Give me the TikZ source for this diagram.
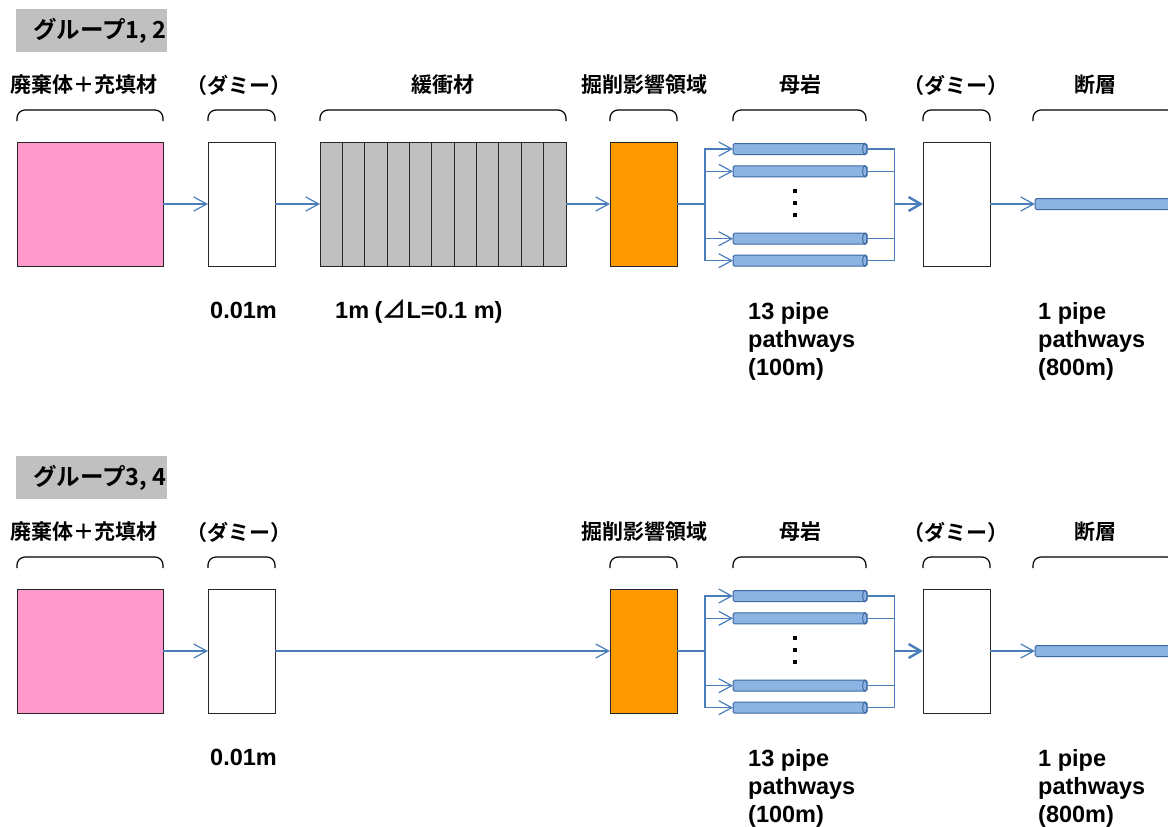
\documentclass[tikz,border=0pt]{standalone}
\usepackage{fontspec}
\setmainfont{Liberation Sans}
\newfontfamily\jp{Noto Sans CJK JP}[BoldFont={* Bold}]
\usetikzlibrary{arrows.meta}
\definecolor{flowblue}{HTML}{4A7EBB}
\definecolor{pipefill}{HTML}{8DB3E2}
\definecolor{pipeedge}{HTML}{3D6AA3}
\definecolor{pinkfill}{HTML}{FF99CC}
\definecolor{orangefill}{HTML}{FF9900}
\definecolor{bufgray}{HTML}{C0C0C0}
\tikzset{
  box/.style={draw=black!85, line width=1pt, anchor=north west, inner sep=0pt, outer sep=0pt, minimum height=124pt},
  pipe/.style={draw=pipeedge, fill=pipefill, line width=1pt, rounded corners=1.5pt, minimum height=11pt, inner sep=0pt, outer sep=0pt, anchor=west},
  pipeend/.style={draw=pipeedge, fill=pipefill, line width=1pt},
  flow/.style={draw=flowblue, line width=1.2pt},
  thickflow/.style={draw=flowblue, line width=2.4pt},
  tip/.style={-{Straight Barb[length=13pt,width=14pt]}},
  ttip/.style={-{Straight Barb[length=12pt,width=14pt]}},
  jplabel/.style={font=\jp\bfseries\fontsize{21}{21}\selectfont, inner sep=0pt},
  numlabel/.style={font=\bfseries\fontsize{23.5}{27.7}\selectfont, inner sep=0pt, align=left},
  brace/.style={draw=black, line width=1.2pt, rounded corners=8pt},
}
\newcommand\mygroup[1]{%
  \fill[bufgray] (16,9) rectangle (167,52);
  \node[jplabel, font=\jp\bfseries\fontsize{23.5}{23.5}\selectfont, anchor=west] (title) at (33,31) {#1};
  % labels
  \node[jplabel] (l1) at (84,85) {廃棄体＋充填材};
  \node[jplabel] (l2) at (239,85) {（ダミー）};
  \node[jplabel] (l4) at (644,85) {掘削影響領域};
  \node[jplabel] (l5) at (800,85) {母岩};
  \node[jplabel] (l6) at (956,85) {（ダミー）};
  \node[jplabel] (l7) at (1095,85) {断層};
  % brackets
  \draw[brace] (17,121) -- (17,110) -- (163,110) -- (163,121);
  \draw[brace] (208,121) -- (208,110) -- (275,110) -- (275,121);
  \draw[brace] (610,121) -- (610,110) -- (677,110) -- (677,121);
  \draw[brace] (733,121) -- (733,110) -- (866,110) -- (866,121);
  \draw[brace] (923,121) -- (923,110) -- (990,110) -- (990,121);
  \draw[brace] (1033,121) -- (1033,110) -- (1175,110) -- (1175,121);
  % boxes
  \node[box, fill=pinkfill, minimum width=146pt] (pink) at (17,142) {};
  \node[box, fill=white, minimum width=67pt] (w1) at (208,142) {};
  \node[box, fill=orangefill, minimum width=67pt] (orng) at (610,142) {};
  \node[box, fill=white, minimum width=67pt] (w2) at (923,142) {};
  % pipes
  \foreach \n/\y in {p1/149, p2/171.3, p3/238.7, p4/260.7}{
    \node[pipe, minimum width=134pt] (\n) at (733,\y) {};
    \draw[pipeend] ([xshift=-2.2pt]\n.east) ellipse (2.2pt and 5.5pt);
  }
  \node[pipe, minimum width=142pt] (fault) at (1035,204) {};
  \draw[pipeend] ([xshift=-2.2pt]fault.east) ellipse (2.2pt and 5.5pt);
  % dots
  \foreach \y in {189.3, 201.3, 213.3}{ \fill (793.3,\y) rectangle +(4,4); }
  \coordinate (j1) at (705,204);
  \coordinate (j2) at (894.3,204);
  % connectors
  \draw[flow, tip] (pink.east) -- (w1.west);
  \draw[thickflow] (orng.east) -- (j1);
  \foreach \n in {p1,p2,p3,p4}{
    \draw[flow, tip] (j1) |- (\n.west);
    \draw[flow] (\n.east) -| (j2);
  }
  \draw[thickflow, ttip] (j2) -- (w2.west);
  \draw[flow, tip] (w2.east) -- (fault.west);
  % bottom numbers
  \node[numlabel, anchor=base west] (n1) at (210,318) {0.01m};
  \node[numlabel, anchor=north west] (n3) at (748,302.5) {13 pipe\\pathways\\(100m)};
  \node[numlabel, anchor=north west] (n4) at (1038,302.5) {1 pipe\\pathways\\(800m)};
}
\begin{document}
\begin{tikzpicture}[x=1pt, y=-1pt]
\useasboundingbox (0,0) rectangle (1168,827);
\begin{scope}[name prefix=a-]
  \mygroup{グループ1, 2}
  \node[jplabel] (l3) at (443,85) {緩衝材};
  \draw[brace] (320,121) -- (320,110) -- (566,110) -- (566,121);
  \node[box, fill=bufgray, minimum width=246pt] (buf) at (320,142) {};
  \foreach \i in {1,...,10}{ \draw[black!85, line width=1pt] (320+\i*22.3636,142) -- ++(0,124); }
  \draw[flow, tip] (w1.east) -- (buf.west);
  \draw[flow, tip] (buf.east) -- (orng.west);
  \node[numlabel, anchor=base west] (n2) at (335,318) {1m\hspace{-1pt} ({\jp\fontsize{24}{24}\selectfont ⊿}L=0.1 m)};
\end{scope}
\begin{scope}[name prefix=b-, yshift=-447pt]
  \mygroup{グループ3, 4}
  \draw[flow, tip] (w1.east) -- (orng.west);
\end{scope}
\end{tikzpicture}
\end{document}
